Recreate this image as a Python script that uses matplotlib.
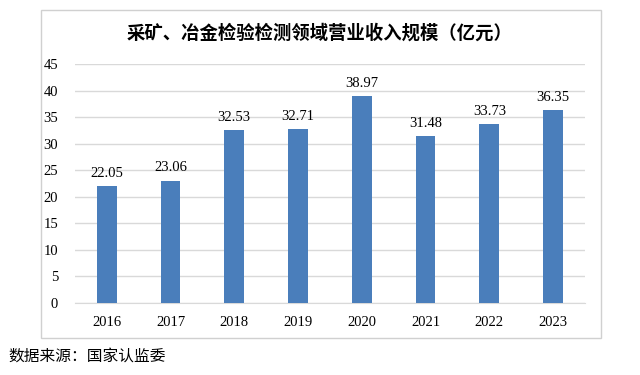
import matplotlib
matplotlib.use("Agg")
import matplotlib.pyplot as plt
from matplotlib.patches import Rectangle

plt.rcParams['font.family'] = ['Liberation Serif', 'Noto Sans CJK SC']

years = ['2016', '2017', '2018', '2019', '2020', '2021', '2022', '2023']
revenue = [22.05, 23.06, 32.53, 32.71, 38.97, 31.48, 33.73, 36.35]
yticks = [0, 5, 10, 15, 20, 25, 30, 35, 40, 45]

fig = plt.figure(figsize=(6.4, 3.75), dpi=100)
ax = fig.add_axes([0.117, 0.192, 0.797, 0.637])

# chart frame
fig.patches.append(Rectangle((41 / 640, 1 - 338 / 375), 560 / 640, 328 / 375,
                             transform=fig.transFigure, fill=False,
                             edgecolor='#d0d0d0', linewidth=1))

x = range(len(years))
bars = ax.bar(x, revenue, width=0.31, color='#4a7ebb', zorder=3)
for xi, v in zip(x, revenue):
    ax.text(xi, v + 1.2, f'{v:.2f}', ha='center', va='bottom', fontsize=10.5)

ax.set_xlim(-0.5, len(years) - 0.5)
ax.set_ylim(0, 45)
ax.set_yticks(yticks)
ax.set_xticks(list(x))
ax.set_xticklabels(years)
ax.grid(axis='y', color='#d9d9d9', linewidth=1, zorder=0)
for s in ['top', 'right', 'left']:
    ax.spines[s].set_visible(False)
ax.spines['bottom'].set_color('#d9d9d9')
ax.tick_params(length=0, labelsize=10.5)
ax.tick_params(axis='x', pad=9)
ax.tick_params(axis='y', pad=12)

fig.text(0.5, 1 - 33 / 375, '采矿、冶金检验检测领域营业收入规模（亿元）',
         ha='center', va='center', fontsize=13.2, fontweight='bold',
         family=['Noto Sans CJK SC'])
fig.text(8 / 640, 1 - 356 / 375, '数据来源：国家认监委', ha='left', va='center',
         fontsize=11.3, family=['Noto Sans CJK SC'])

fig.savefig('out.png', dpi=100)
